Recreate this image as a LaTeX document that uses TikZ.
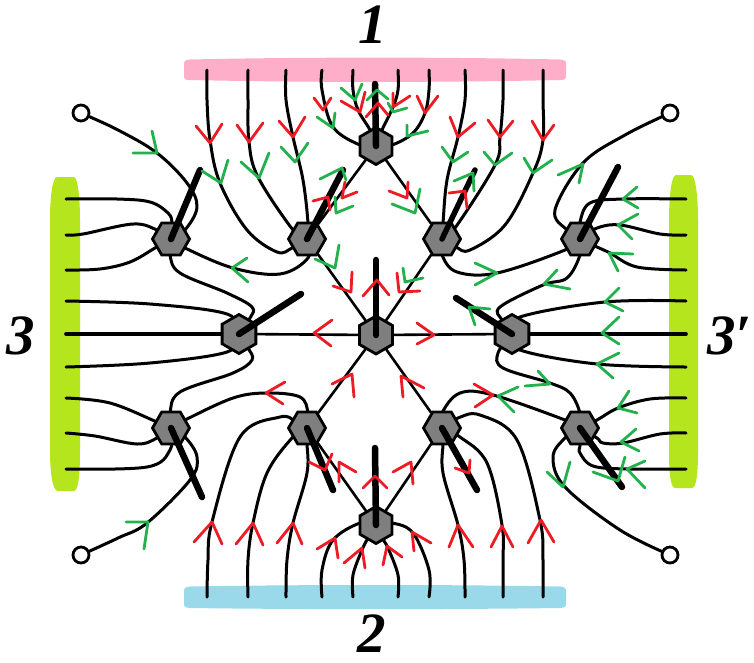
\documentclass[tikz,border=0pt]{standalone}
\usepackage{fontspec}
\setmainfont{Liberation Serif}
\usetikzlibrary{shapes.geometric,backgrounds}
\definecolor{pinkbar}{HTML}{FFAEC9}
\definecolor{bluebar}{HTML}{99D9EA}
\definecolor{limebar}{HTML}{B5E61D}
\definecolor{redm}{HTML}{ED1C24}
\definecolor{greenm}{HTML}{22B14C}
\definecolor{hexgray}{HTML}{7F7F7F}
\tikzset{
  hexflat/.style={draw=black,line width=2.8pt,fill=hexgray,regular polygon,regular polygon sides=6,minimum size=37pt,inner sep=0pt},
  hexpoint/.style={hexflat,shape border rotate=30},
  wire/.style={black,line width=3pt,line cap=round,line join=round},
  spike/.style={black,line width=6.5pt,line cap=round},
  term/.style={draw=black,line width=2.8pt,fill=white,circle,minimum size=16pt,inner sep=0pt},
  rm/.style={redm,line width=2.8pt,line cap=round,line join=round},
  gm/.style={greenm,line width=2.8pt,line cap=round,line join=round},
  lab/.style={font=\bfseries\itshape\fontsize{57}{57}\selectfont,inner sep=0pt}
}
\newcommand\wirep[1]{\draw[wire] plot[smooth,tension=.6] coordinates {#1};}
\newcommand\rch[3]{\draw[rm] #1 -- #2 -- #3;}
\newcommand\gch[3]{\draw[gm] #1 -- #2 -- #3;}
\begin{document}
\begin{tikzpicture}[x=1pt,y=-1pt]
\useasboundingbox (0,0) rectangle (754,662);
% hexagons
\node[hexpoint] (hT) at (376,146) {};
\node[hexpoint,minimum size=38pt] (hC) at (376,335) {};
\node[hexpoint] (hB) at (376,525) {};
\node[hexpoint,minimum size=39pt] (hL) at (239,334) {};
\node[hexpoint,minimum size=39pt] (hR) at (512,334) {};
\node[hexflat] (hA) at (171,239) {};
\node[hexflat] (hD) at (307,239) {};
\node[hexflat] (hE) at (442,239) {};
\node[hexflat] (hG) at (580,239) {};
\node[hexflat] (hI) at (171,428) {};
\node[hexflat] (hJ) at (307,428) {};
\node[hexflat] (hK) at (442,428) {};
\node[hexflat] (hM) at (580,428) {};
% open terminals
\node[term] (cTL) at (81,113) {};
\node[term] (cBL) at (81,555) {};
\node[term] (cTR) at (670,113) {};
\node[term] (cBR) at (670,555) {};
% wire ends in the bars
\foreach \n/\x in {1/207,2/248,3/286,4/322,5/353,6/398,7/429,8/465,9/503,10/543}{
  \coordinate (t\n) at (\x,70);
  \coordinate (b\n) at (\x,597);
}
\foreach \n/\y in {1/199,2/235,3/270,4/301,5/334,6/367,7/398,8/433,9/469}{
  \coordinate (l\n) at (66,\y);
  \coordinate (r\n) at (686,\y);
}
\begin{scope}[on background layer]
% bars
\fill[pinkbar] (190,59.5) .. controls (300,57) and (450,57) .. (560,59.5) .. controls (566,60) and (566,61) .. (566,65) -- (566,75) .. controls (566,79) and (565,80) .. (560,80) .. controls (450,82.5) and (300,82.5) .. (190,80) .. controls (185,80) and (184,79) .. (184,75) -- (184,65) .. controls (184,61) and (185,60) .. (190,59.5) -- cycle;
\fill[bluebar] (190,586.5) .. controls (300,584.5) and (450,584.5) .. (560,586.5) .. controls (565,587) and (566,588) .. (566,592) -- (566,603) .. controls (566,607) and (565,607.5) .. (560,608) .. controls (450,609.5) and (300,609.5) .. (190,608) .. controls (185,607.5) and (184,607) .. (184,603) -- (184,592) .. controls (184,588) and (185,587) .. (190,586.5) -- cycle;
\fill[limebar] (57,177) -- (74,177) .. controls (78,177) and (80,200) .. (80,220) -- (80,450) .. controls (80,470) and (79,491) .. (74,491) -- (58,491) .. controls (52,491) and (50,470) .. (50,450) -- (50,220) .. controls (50,200) and (52,177) .. (57,177) -- cycle;
\fill[limebar] (676,175) -- (691,175) .. controls (696,175) and (698,200) .. (698,220) -- (698,450) .. controls (698,470) and (697,488) .. (692,488) -- (675,488) .. controls (670,488) and (669,470) .. (669,450) -- (669,220) .. controls (669,200) and (671,175) .. (676,175) -- cycle;
% straight connectors
\draw[wire,line width=2.6pt] (hT) -- (hD);
\draw[wire,line width=2.6pt] (hT) -- (hE);
\draw[wire,line width=2.6pt] (hC) -- (hD);
\draw[wire,line width=2.6pt] (hC) -- (hE);
\draw[wire,line width=2.6pt] (hC) -- (hJ);
\draw[wire,line width=2.6pt] (hC) -- (hK);
\draw[wire,line width=2.6pt] (hC) -- (hL);
\draw[wire,line width=2.6pt] (hC) -- (hR);
\draw[wire,line width=2.6pt] (hB) -- (hJ);
\draw[wire,line width=2.6pt] (hB) -- (hK);
% top bar wires
\wirep{(t1)(207,100)(210,140)(220,183)(247,230)(277,252)(292,248)(hD.center)}
\wirep{(t2)(248,100)(249,142)(258,177)(293,230)(hD.center)}
\wirep{(t3)(286,100)(293,137)(303,180)(308,223)(hD.center)}
\wirep{(t4)(322,90)(333,127)(360,145)(hT.center)}
\wirep{(t5)(353,90)(358,110)(370,130)(hT.center)}
\wirep{(t6)(398,90)(393,107)(382,130)(hT.center)}
\wirep{(t7)(429,90)(425,113)(413,133)(392,145)(hT.center)}
\wirep{(t8)(465,100)(458,137)(447,180)(443,223)(hE.center)}
\wirep{(t9)(503,100)(500,137)(495,165)(455,228)(hE.center)}
\wirep{(t10)(543,100)(543,140)(533,173)(505,225)(470,250)(456,247)(hE.center)}
% bottom bar wires
\wirep{(b1)(208,560)(212,522)(240,437)(280,417)(295,421)(hJ.center)}
\wirep{(b2)(248,560)(253,523)(267,473)(292,438)(hJ.center)}
\wirep{(b3)(287,560)(293,523)(307,473)(307,443)(hJ.center)}
\wirep{(b4)(322,570)(333,540)(360,523)(hB.center)}
\wirep{(b5)(353,575)(362,550)(368,538)(hB.center)}
\wirep{(b6)(398,575)(388,548)(382,538)(hB.center)}
\wirep{(b7)(429,570)(413,533)(392,523)(hB.center)}
\wirep{(b8)(464,560)(458,525)(443,473)(443,443)(hK.center)}
\wirep{(b9)(503,560)(502,525)(487,463)(460,437)(hK.center)}
\wirep{(b10)(543,560)(540,520)(517,440)(480,415)(458,418)(hK.center)}
% left bar wires
\wirep{(l1)(117,199)(150,202)(168,213)(172,223)(hA.center)}
\wirep{(l2)(83,234)(133,224)(157,230)(hA.center)}
\wirep{(l3)(100,269)(130,262)(155,248)(hA.center)}
\wirep{(l4)(150,304)(227,314)(hL.center)}
\draw[wire,line width=3.6pt] (l5) -- (hL);
\wirep{(l6)(150,363)(227,352)(hL.center)}
\wirep{(l7)(110,403)(157,422)(hI.center)}
\wirep{(l8)(95,436)(137,444)(157,438)(hI.center)}
\wirep{(l9)(147,467)(170,450)(hI.center)}
% right bar wires
\wirep{(r1)(623,199)(590,203)(580,222)(hG.center)}
\wirep{(r2)(660,234)(620,225)(597,228)(hG.center)}
\wirep{(r3)(637,267)(610,253)(597,247)(hG.center)}
\wirep{(r4)(605,302)(520,317)(hR.center)}
\draw[wire,line width=3.6pt] (r5) -- (hR);
\wirep{(r6)(597,364)(520,350)(hR.center)}
\wirep{(r7)(650,399)(618,408)(597,420)(hM.center)}
\wirep{(r8)(660,434)(623,443)(603,443)(597,438)(hM.center)}
\wirep{(r9)(627,469)(593,466)(580,453)(580,445)(hM.center)}
% hexagon to hexagon
\wirep{(hA.center)(185,248)(233,268)(280,274)(308,258)(hD.center)}
\wirep{(hA.center)(170,255)(180,273)(227,293)(252,307)(250,318)(hL.center)}
\wirep{(hI.center)(185,420)(233,398)(267,393)(300,397)(308,413)(hJ.center)}
\wirep{(hI.center)(170,413)(180,392)(233,373)(252,360)(248,348)(hL.center)}
\wirep{(hE.center)(442,255)(457,272)(497,273)(565,250)(hG.center)}
\wirep{(hG.center)(580,255)(567,278)(543,285)(500,307)(502,320)(hR.center)}
\wirep{(hK.center)(442,413)(460,393)(493,395)(565,420)(hM.center)}
\wirep{(hM.center)(580,413)(570,393)(550,383)(503,368)(498,353)(hR.center)}
% wires to the open terminals
\wirep{(cTL.center)(118,130)(157,153)(187,183)(197,207)(185,230)(hA.center)}
\wirep{(cBL.center)(118,538)(147,523)(190,480)(197,457)(185,437)(hI.center)}
\wirep{(cTR.center)(625,135)(583,163)(555,210)(567,230)(hG.center)}
\wirep{(cBR.center)(620,530)(565,487)(553,457)(565,438)(hM.center)}
\end{scope}
% spikes
\draw[spike] (hT.center) -- (375,84);
\draw[spike] (hC.center) -- (376,260);
\draw[spike] (hB.center) -- (375,448);
\draw[spike] (hA.center) -- (200,170);
\draw[spike] (hD.center) -- (343,170);
\draw[spike,line width=5.5pt] (hE.center) -- (475,170);
\draw[spike] (hG.center) -- (618,167);
\draw[spike] (hL.center) -- (301,294);
\draw[spike] (hR.center) -- (456,298);
\draw[spike] (hI.center) -- (202,497);
\draw[spike] (hJ.center) -- (333,490);
\draw[spike] (hK.center) -- (477,490);
\draw[spike] (hM.center) -- (622,487);
% green marks
\gch{(202,171)}{(221,183)}{(228,160)}
\gch{(241,162)}{(259,178)}{(269,153)}
\gch{(281,147)}{(295,162)}{(308,143)}
\gch{(317,117)}{(333,128)}{(335,113)}
\gch{(341,88)}{(355,100)}{(362,84)}
\gch{(367,100)}{(377,90)}{(388,99)}
\gch{(388,103)}{(393,112)}{(407,108)}
\gch{(407,125)}{(407,136)}{(428,131)}
\gch{(442,147)}{(453,162)}{(468,152)}
\gch{(484,152)}{(495,165)}{(512,153)}
\gch{(524,158)}{(533,173)}{(552,160)}
\gch{(320,179)}{(342,168)}{(346,180)}
\gch{(335,197)}{(336,213)}{(353,206)}
\gch{(392,204)}{(415,213)}{(420,189)}
\gch{(454,181)}{(473,173)}{(474,191)}
\gch{(558,175)}{(583,164)}{(579,183)}
\gch{(133,153)}{(157,153)}{(152,131)}
\gch{(247,258)}{(232,268)}{(248,282)}
\gch{(315,259)}{(335,268)}{(339,245)}
\gch{(403,268)}{(405,282)}{(423,278)}
\gch{(490,309)}{(469,307)}{(475,325)}
\gch{(637,187)}{(623,199)}{(638,208)}
\gch{(638,214)}{(618,225)}{(632,239)}
\gch{(633,254)}{(609,253)}{(618,271)}
\gch{(619,288)}{(605,302)}{(623,311)}
\gch{(619,317)}{(602,333)}{(619,344)}
\gch{(619,353)}{(597,364)}{(613,378)}
\gch{(475,263)}{(497,273)}{(475,285)}
\gch{(557,270)}{(544,284)}{(570,289)}
\gch{(538,371)}{(550,384)}{(525,386)}
\gch{(629,391)}{(618,408)}{(637,413)}
\gch{(636,429)}{(621,442)}{(639,451)}
\gch{(645,461)}{(627,469)}{(645,488)}
\gch{(593,472)}{(618,481)}{(625,457)}
\gch{(547,472)}{(563,487)}{(570,462)}
\gch{(518,387)}{(498,396)}{(514,412)}
\gch{(126,522)}{(148,522)}{(144,549)}
% red marks
\rch{(196,126)}{(210,143)}{(222,124)}
\rch{(237,125)}{(249,142)}{(263,123)}
\rch{(279,121)}{(293,137)}{(305,117)}
\rch{(314,98)}{(323,110)}{(331,98)}
\rch{(341,101)}{(360,112)}{(365,92)}
\rch{(366,117)}{(378,103)}{(388,115)}
\rch{(393,93)}{(393,107)}{(410,96)}
\rch{(417,96)}{(425,113)}{(438,96)}
\rch{(450,117)}{(458,137)}{(475,123)}
\rch{(488,120)}{(500,137)}{(513,121)}
\rch{(532,121)}{(543,140)}{(554,125)}
\rch{(313,201)}{(328,197)}{(330,210)}
\rch{(345,182)}{(342,198)}{(357,192)}
\rch{(389,191)}{(407,198)}{(408,182)}
\rch{(449,193)}{(465,191)}{(467,208)}
\rch{(333,286)}{(351,292)}{(352,272)}
\rch{(363,296)}{(377,280)}{(389,295)}
\rch{(397,273)}{(399,292)}{(420,291)}
\rch{(332,320)}{(314,333)}{(331,346)}
\rch{(417,323)}{(434,335)}{(417,344)}
\rch{(332,384)}{(352,374)}{(354,397)}
\rch{(424,388)}{(401,376)}{(403,397)}
\rch{(474,384)}{(493,395)}{(475,407)}
\rch{(285,382)}{(266,393)}{(283,404)}
\rch{(455,468)}{(469,473)}{(470,460)}
\rch{(393,472)}{(411,462)}{(413,484)}
\rch{(363,488)}{(375,476)}{(387,488)}
\rch{(356,472)}{(339,462)}{(339,482)}
\rch{(309,462)}{(325,470)}{(332,454)}
\rch{(317,549)}{(335,538)}{(338,558)}
\rch{(344,563)}{(362,548)}{(365,568)}
\rch{(383,565)}{(387,546)}{(402,557)}
\rch{(431,543)}{(412,532)}{(414,551)}
\rch{(449,547)}{(458,525)}{(473,547)}
\rch{(491,547)}{(502,526)}{(513,547)}
\rch{(528,543)}{(541,520)}{(554,542)}
\rch{(194,542)}{(212,522)}{(222,544)}
\rch{(236,544)}{(253,523)}{(263,545)}
\rch{(277,543)}{(293,523)}{(302,544)}
% labels
\node[lab] (n1) at (373,25) {1};
\node[lab] (n2) at (372,634) {2};
\node[lab] (n3) at (21,336) {3};
\node[lab,anchor=west] (n4) at (707,336) {3′};
\end{tikzpicture}
\end{document}
